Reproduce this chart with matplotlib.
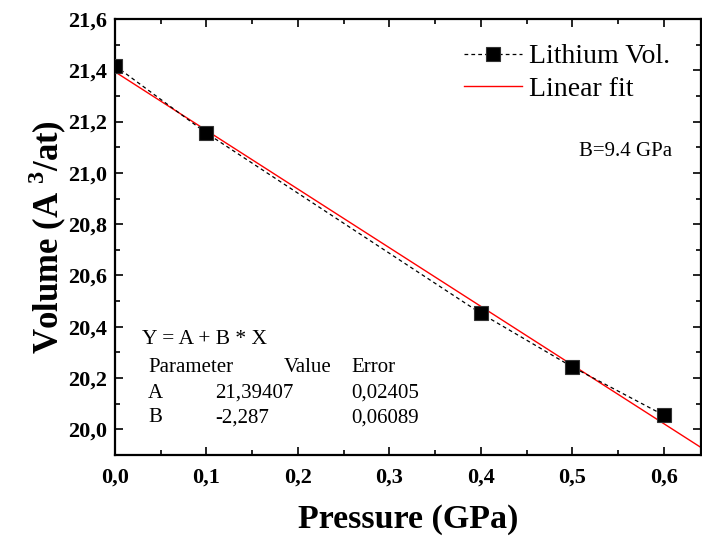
import matplotlib.pyplot as plt
import numpy as np
from matplotlib.ticker import MultipleLocator, FuncFormatter

# lithium volume vs pressure
pressure = [0.0, 0.1, 0.4, 0.5, 0.6]
volume = [21.418, 21.155, 20.452, 20.243, 20.055]

# linear fit parameters (Y = A + B * X)
fit_a = 21.39407
fit_b = -2.287
fit_a_err = 0.02405
fit_b_err = 0.06089
bulk_text = "B=9.4 GPa"

plt.rcParams['font.family'] = ['Liberation Serif', 'DejaVu Serif']
plt.rcParams['mathtext.fontset'] = 'custom'
plt.rcParams['mathtext.rm'] = 'Liberation Serif:bold'
plt.rcParams['mathtext.bf'] = 'Liberation Serif:bold'

W, H = 702, 536
fig = plt.figure(figsize=(W / 100, H / 100), dpi=100)
ax = fig.add_axes([115 / W, 1 - 455 / H, 586 / W, 436 / H])

xfit = np.array([0.0, 0.7])
ax.plot(pressure, volume, color='black', lw=0.9, linestyle=(0, (3, 2.5)),
        marker='s', markersize=10, markerfacecolor='black',
        markeredgecolor='#333333', markeredgewidth=0.8, label='Lithium Vol.', zorder=3)
ax.plot(xfit, fit_a + fit_b * xfit, color='red', lw=1.0, label='Linear fit', zorder=2)

ax.set_xlim(0, 0.6405)
ax.set_ylim(19.9, 21.6)

ax.xaxis.set_major_locator(MultipleLocator(0.1))
ax.xaxis.set_minor_locator(MultipleLocator(0.05))
ax.yaxis.set_major_locator(MultipleLocator(0.2))
ax.yaxis.set_minor_locator(MultipleLocator(0.1))

comma = FuncFormatter(lambda v, p: f"{v:.1f}".replace('.', ','))
ax.xaxis.set_major_formatter(comma)
ax.yaxis.set_major_formatter(comma)

ax.tick_params(which='both', direction='in', top=True, right=True, width=1.2)
ax.tick_params(which='major', length=6, labelsize=16)
ax.tick_params(axis='x', which='major', pad=9)
ax.tick_params(axis='y', which='major', pad=6)
ax.tick_params(which='minor', length=3.5)
for lbl in ax.get_xticklabels() + ax.get_yticklabels():
    lbl.set_fontweight('bold')
for sp in ax.spines.values():
    sp.set_linewidth(1.6)

ax.set_xlabel('Pressure (GPa)', fontsize=24.5, fontweight='bold', labelpad=12)
ax.set_ylabel(r'Volume (A $^{3}$/at)', fontsize=25, fontweight='bold', labelpad=-1)

ax.legend(loc='upper right', frameon=False, fontsize=20, handlelength=2.1,
          handletextpad=0.25, labelspacing=0.25, borderaxespad=0.5,
          bbox_to_anchor=(0.99, 1.0))

ax.text(0.95, (455 - 151) / 436, bulk_text, transform=ax.transAxes, fontsize=15,
        ha='right', va='center')

# fit result table, pixel positions from the top edge
rows_y = [340, 367, 393, 418]
ax.text(142, H - rows_y[0], 'Y = A + B * X', transform=None, fontsize=15.5, va='center')
table = [
    ('Parameter', 'Value', 'Error'),
    ('A', f"{fit_a:.5f}".replace('.', ','), f"{fit_a_err:.5f}".replace('.', ',')),
    ('B', f"{fit_b:.3f}".replace('.', ','), f"{fit_b_err:.5f}".replace('.', ',')),
]
for i, row in enumerate(table):
    y = H - rows_y[i + 1]
    ax.text(148, y, row[0], transform=None, fontsize=15, va='center')
    if i == 0:
        ax.text(332, y, row[1], transform=None, fontsize=15, va='center', ha='right')
    else:
        ax.text(215, y, row[1], transform=None, fontsize=15, va='center')
    ax.text(351, y, row[2], transform=None, fontsize=15, va='center')

fig.savefig('out.png', dpi=100)
